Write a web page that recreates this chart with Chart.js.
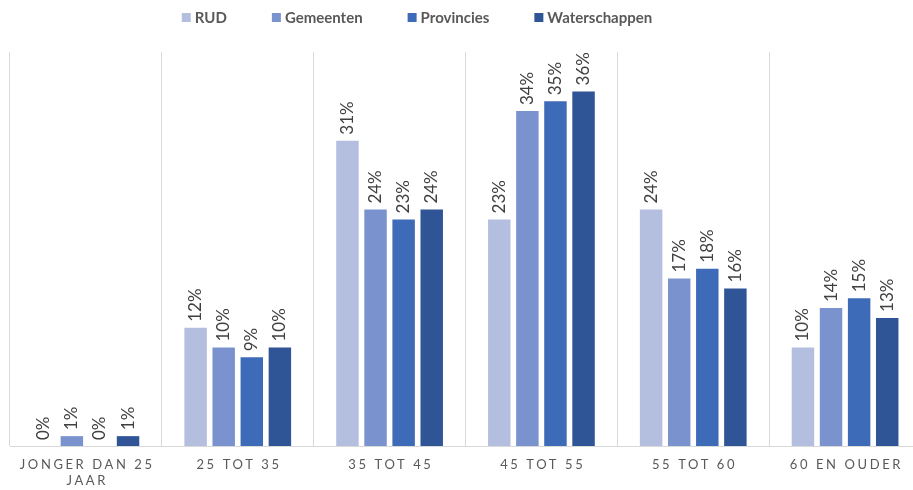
<!DOCTYPE html>
<html>
<head>
<meta charset="utf-8">
<script src="https://cdn.jsdelivr.net/npm/chart.js@4"></script>
<style>
  html, body { margin: 0; padding: 0; background: #fff; overflow: hidden; }
  #wrap { width: 913px; height: 490px; overflow: hidden; }
</style>
</head>
<body>
<div id="wrap"><canvas id="ageChart" width="925" height="490"></canvas></div>
<script>
// leeftijdsopbouw per organisatie
const categories = [["JONGER DAN 25", "JAAR"], "25 TOT 35", "35 TOT 45", "45 TOT 55", "55 TOT 60", "60 EN OUDER"];
const rud = [0, 12, 31, 23, 24, 10];
const gemeenten = [1, 10, 24, 34, 17, 14];
const provincies = [0, 9, 23, 35, 18, 15];
const waterschappen = [1, 10, 24, 36, 16, 13];

const seriesNames = ["RUD", "Gemeenten", "Provincies", "Waterschappen"];
const seriesColors = ["#B4BFDF", "#7A93CF", "#3E6BB8", "#2F5597"];

const FONT = "Lato, 'Open Sans', sans-serif";

// waarde-labels, gedraaid boven elke staaf
const barLabels = {
  id: "barLabels",
  afterDatasetsDraw(chart) {
    const ctx = chart.ctx;
    ctx.save();
    ctx.font = "17px " + FONT;
    ctx.fillStyle = "#404040";
    ctx.textAlign = "left";
    ctx.textBaseline = "middle";
    chart.data.datasets.forEach(function(ds, i) {
      const meta = chart.getDatasetMeta(i);
      meta.data.forEach(function(bar, j) {
        ctx.save();
        ctx.translate(bar.x, bar.y - 6);
        ctx.rotate(-Math.PI / 2);
        ctx.fillText(ds.data[j] + "%", 0, 0);
        ctx.restore();
      });
    });
    ctx.restore();
  }
};

// categorie-labels met letterafstand onder de as
const xLabels = {
  id: "xLabels",
  afterDraw(chart) {
    const ctx = chart.ctx;
    const xs = chart.scales.x;
    ctx.save();
    ctx.font = "13px " + FONT;
    ctx.fillStyle = "#595959";
    ctx.textAlign = "center";
    ctx.textBaseline = "middle";
    ctx.letterSpacing = "2.6px";
    categories.forEach(function(lab, i) {
      const x = xs.getPixelForValue(i) + 1.3;
      const lines = Array.isArray(lab) ? lab : [lab];
      lines.forEach(function(line, k) {
        ctx.fillText(line, x, chart.chartArea.bottom + 19 + k * 16);
      });
    });
    ctx.restore();
  }
};

// legenda bovenaan
const topLegend = {
  id: "topLegend",
  afterDraw(chart) {
    const ctx = chart.ctx;
    ctx.save();
    ctx.font = "bold 15px " + FONT;
    ctx.textBaseline = "middle";
    const box = 9, boxGap = 4, itemGap = 45, y = 18;
    const widths = seriesNames.map(function(n) { return ctx.measureText(n).width; });
    let total = 0;
    widths.forEach(function(w) { total += box + boxGap + w; });
    total += itemGap * (seriesNames.length - 1);
    let x = 417 - total / 2;
    seriesNames.forEach(function(n, i) {
      ctx.fillStyle = seriesColors[i];
      ctx.fillRect(x, y - 5, box, box);
      ctx.fillStyle = "#595959";
      ctx.fillText(n, x + box + boxGap, y);
      x += box + boxGap + widths[i] + itemGap;
    });
    ctx.restore();
  }
};

const values = [rud, gemeenten, provincies, waterschappen];

new Chart("ageChart", {
  type: "bar",
  data: {
    labels: categories,
    datasets: values.map(function(v, i) {
      return {
        label: seriesNames[i],
        data: v,
        backgroundColor: seriesColors[i],
        categoryPercentage: 0.74,
        barPercentage: 0.8
      };
    })
  },
  options: {
    responsive: false,
    animation: false,
    layout: { padding: { left: 10, right: 4, top: 52, bottom: 44 } },
    plugins: {
      legend: { display: false },
      tooltip: { enabled: false }
    },
    scales: {
      x: {
        grid: { color: "#D9D9D9", drawTicks: false, offset: true },
        border: { color: "#D9D9D9" },
        ticks: { display: false }
      },
      y: {
        display: false,
        min: 0,
        max: 40
      }
    }
  },
  plugins: [barLabels, xLabels, topLegend]
});
</script>
</body>
</html>
